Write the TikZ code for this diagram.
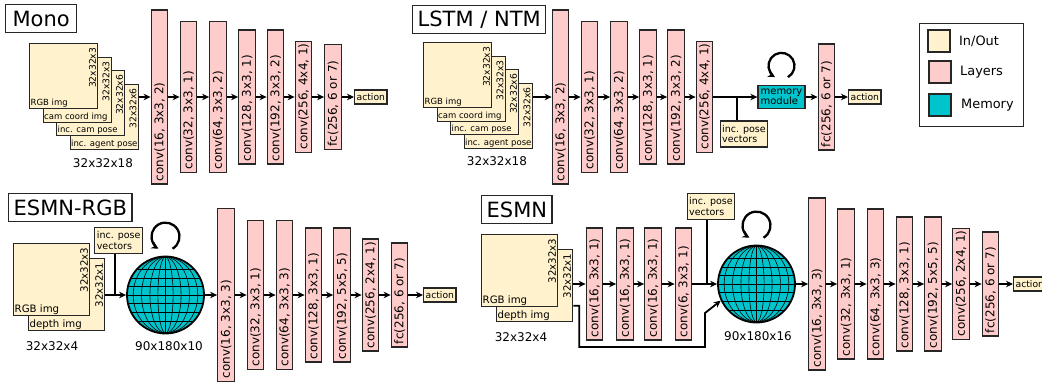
\documentclass[tikz,border=0pt]{standalone}
\usepackage{fontspec}
\setmainfont{DejaVu Sans}
\usepackage{tikz}
\usetikzlibrary{calc, arrows.meta, positioning}
\usepackage{xcolor}
\definecolor{inoutfill}{RGB}{255,242,204}
\definecolor{layerfill}{RGB}{255,204,204}
\definecolor{memfill}{RGB}{0,196,204}
\colorlet{edgegray}{black!85}
\tikzset{
  outline/.style={draw=edgegray, line width=1.3pt},
  titlebox/.style={outline, anchor=north west, inner xsep=5pt, minimum height=28pt, font=\fontsize{21}{25}\selectfont},
  inbox/.style={outline, fill=inoutfill, anchor=north west, inner sep=0pt},
  layerbox/.style={outline, fill=layerfill, rotate=90, inner sep=0pt, minimum height=16.5pt, font=\fontsize{12}{14}\selectfont},
  actbox/.style={outline, fill=inoutfill, anchor=west, inner sep=2pt, minimum height=14pt, font=\fontsize{9.2}{11}\selectfont},
  posebox/.style={outline, fill=inoutfill, align=left, inner sep=1.5pt, minimum width=46pt, minimum height=26pt, font=\fontsize{9.5}{10.5}\selectfont},
  membox/.style={outline, fill=memfill, align=left, inner sep=1pt, minimum width=47pt, minimum height=23pt, font=\fontsize{10}{10.5}\selectfont},
  globe/.style={circle, draw=black, line width=1.8pt, fill=memfill, minimum size=77pt, inner sep=0pt},
  gridline/.style={black, line width=0.6pt},
  arr/.style={line width=1.8pt, -{Stealth[length=7pt, width=6.5pt]}},
  feedline/.style={line width=1.8pt},
  selfloop/.style={line width=2.3pt, -{Stealth[length=7pt, width=7pt]}},
  dimtext/.style={font=\fontsize{12}{14}\selectfont},
  tagtext/.style={inner sep=1.5pt, font=\fontsize{8.5}{10}\selectfont},
  bigtag/.style={inner sep=1.5pt, font=\fontsize{10.2}{12}\selectfont},
  keytext/.style={font=\fontsize{12.9}{15}\selectfont},
}
% lat/long lines over a globe node
\newcommand{\globegrid}[1]{%
  \begin{scope}
    \clip (#1.center) circle[radius=38pt];
    \foreach \a in {0.2,0.41,0.63,0.85}
      \draw[gridline] (#1.center) ellipse[x radius=\a*38pt, y radius=38pt];
    \draw[gridline] ([yshift=38pt]#1.center) -- ([yshift=-38pt]#1.center);
    \foreach \b in {-0.68,-0.45,-0.23,0,0.23,0.45,0.68}
      \draw[gridline] ([xshift=-38pt, yshift=\b*38pt]#1.center) -- ([xshift=38pt, yshift=\b*38pt]#1.center);
  \end{scope}}

\begin{document}
\begin{tikzpicture}[x=1pt, y=-1pt]
  \fill[white] (0,0) rectangle (1042,383);
  \useasboundingbox (0,0) rectangle (1042,383);

  % Mono and LSTM / NTM inputs
  \node[titlebox, minimum width=71pt] (monotitle) at (5,4) {Mono};
  \node[titlebox] (lstmtitle) at (412,5) {LSTM / NTM};
  \foreach \net/\x/\y in {mono/29/43, lstm/423/42} {
    \foreach \i/\d/\txt/\dims in {3/40.5/inc. agent pose/32x32x6, 2/27/inc. cam pose/32x32x6, 1/13.5/cam coord img/32x32x3, 0/0/RGB img/32x32x3} {
      \node[inbox, minimum width=68pt, minimum height=65pt] (\net in\i) at (\x+\d,\y+\d) {};
      \node[tagtext, anchor=south west] (\net tag\i) at (\net in\i.south west) {\txt};
      \node[tagtext, font=\fontsize{9.2}{11}\selectfont, rotate=90, anchor=south east] (\net dim\i) at ([xshift=-0.5pt, yshift=-3pt]\net in\i.north east) {\dims};
    }
  }
  \node[dimtext] (monosize) at (103,163) {32x32x18};
  \node[dimtext] (lstmsize) at (497,161) {32x32x18};

  % Mono layers
  \foreach \n/\x/\h/\txt in {1/159.5/174/{conv(16, 3x3, 2)}, 2/188.5/151/{conv(32, 3x3, 1)}, 3/218/151/{conv(64, 3x3, 2)}, 4/247/134/{conv(128, 3x3, 1)}, 5/275.5/134/{conv(192, 3x3, 2)}, 6/303.5/111/{conv(256, 4x4, 1)}, 7/333/105/{fc(256, 6 or 7)}}
    \node[layerbox, minimum width=\h pt] (mono\n) at (\x,97) {\makebox[\dimexpr\h pt-6pt\relax][l]{\txt}};
  \node[actbox] (monoact) at (354,97) {action};
  \draw[arr] (monoin3.east |- mono1) -- (mono1);
  \foreach \i [count=\j from 2] in {1,...,6}
    \draw[arr] (mono\i) -- (mono\j);
  \draw[arr] (mono7) -- (monoact);

  % LSTM / NTM layers
  \foreach \n/\x/\h/\txt in {1/560.5/174/{conv(16, 3x3, 2)}, 2/589.5/151/{conv(32, 3x3, 1)}, 3/619/151/{conv(64, 3x3, 2)}, 4/648/134/{conv(128, 3x3, 1)}, 5/676/134/{conv(192, 3x3, 2)}, 6/704.5/111/{conv(256, 4x4, 1)}, 7/826.5/106/{fc(256, 6 or 7)}}
    \node[layerbox, minimum width=\h pt] (lstm\n) at (\x,97) {\makebox[\dimexpr\h pt-6pt\relax][l]{\txt}};
  \node[membox] (lstmmem) at (781.5,97) {memory\\module};
  \node[posebox] (lstmpose) at (744,134) {inc. pose\\vectors};
  \node[actbox] (lstmact) at (848,97) {action};
  \draw[arr] (lstmin3.east |- lstm1) -- (lstm1);
  \foreach \i [count=\j from 2] in {1,...,5}
    \draw[arr] (lstm\i) -- (lstm\j);
  \draw[arr] (lstm6) -- (lstmmem);
  \draw[feedline] ([xshift=-7pt]lstmpose.north) -- ([xshift=-7pt]lstmpose.north |- lstmmem);
  \draw[selfloop] ([yshift=19pt]lstmmem.north) ++(-60:13pt) arc[start angle=-60, end angle=240, radius=13pt];
  \draw[arr] (lstmmem) -- (lstm7);
  \draw[arr] (lstm7) -- (lstmact);

  % Legend
  \node[outline, minimum width=104pt, minimum height=103pt, anchor=north west] (legend) at (919,23) {};
  \node[outline, fill=inoutfill, minimum size=22pt, inner sep=0pt] (keyio) at (939,41) {};
  \node[outline, fill=layerfill, minimum size=22pt, inner sep=0pt] (keylayer) at (940,72) {};
  \node[outline, fill=memfill, minimum size=22pt, inner sep=0pt] (keymem) at (940,105) {};
  \node[keytext, right=5pt of keyio] (keyiotxt) {In/Out};
  \node[keytext, right=5pt of keylayer] (keylayertxt) {Layers};
  \node[keytext, right=6pt of keymem] (keymemtxt) {Memory};

  % ESMN-RGB
  \node[titlebox] (ergbtitle) at (8,193) {ESMN-RGB};
  \node[inbox, minimum width=76pt, minimum height=72pt] (ergbin1) at (28,258) {};
  \node[bigtag, anchor=south west] (ergbtag1) at (ergbin1.south west) {depth img};
  \node[bigtag, rotate=90, anchor=south east] (ergbdim1) at ([xshift=-0.5pt, yshift=-3pt]ergbin1.north east) {32x32x1};
  \node[inbox, minimum width=76pt, minimum height=72pt] (ergbin0) at (13,243) {};
  \node[bigtag, anchor=south west] (ergbtag0) at (ergbin0.south west) {RGB img};
  \node[bigtag, rotate=90, anchor=south east] (ergbdim0) at ([xshift=-0.5pt, yshift=-3pt]ergbin0.north east) {32x32x3};
  \node[dimtext] (ergbsize) at (52,346) {32x32x4};
  \node[posebox, minimum width=48pt, anchor=north west] (ergbpose) at (94,227) {inc. pose\\vectors};
  \node[globe] (ergbsph) at (165.5,295) {};
  \globegrid{ergbsph}
  \node[dimtext] (ergbmap) at (169,346) {90x180x10};
  \draw[arr] (ergbin1.east |- ergbsph) -- (ergbsph);
  \draw[feedline] ([xshift=-4pt]ergbpose.south) -- ([xshift=-4pt]ergbpose.south |- ergbsph);
  \draw[selfloop] ([yshift=19pt]ergbsph.north) ++(-60:14pt) arc[start angle=-60, end angle=240, radius=14pt];
  \foreach \n/\x/\h/\txt in {1/226/173/{conv(16, 3x3, 3)}, 2/255.5/149/{conv(32, 3x3, 1)}, 3/284.5/149/{conv(64, 3x3, 3)}, 4/313.5/134/{conv(128, 3x3, 1)}, 5/342/134/{conv(192, 5x5, 5)}, 6/370.5/112/{conv(256, 2x4, 1)}, 7/399.5/104/{fc(256, 6 or 7)}}
    \node[layerbox, minimum width=\h pt] (ergb\n) at (\x,295) {\makebox[\dimexpr\h pt-6pt\relax][l]{\txt}};
  \node[actbox] (ergbact) at (423,295) {action};
  \draw[arr] (ergbsph) -- (ergb1);
  \foreach \i [count=\j from 2] in {1,...,6}
    \draw[arr] (ergb\i) -- (ergb\j);
  \draw[arr] (ergb7) -- (ergbact);

  % ESMN
  \node[titlebox] (esmntitle) at (481,195) {ESMN};
  \node[inbox, minimum width=76pt, minimum height=72pt] (esmnin1) at (496,249) {};
  \node[bigtag, anchor=south west] (esmntag1) at (esmnin1.south west) {depth img};
  \node[bigtag, rotate=90, anchor=south east] (esmndim1) at ([xshift=-0.5pt, yshift=-3pt]esmnin1.north east) {32x32x1};
  \node[inbox, minimum width=76pt, minimum height=72pt] (esmnin0) at (481,234) {};
  \node[bigtag, anchor=south west] (esmntag0) at (esmnin0.south west) {RGB img};
  \node[bigtag, rotate=90, anchor=south east] (esmndim0) at ([xshift=-0.5pt, yshift=-3pt]esmnin0.north east) {32x32x3};
  \node[dimtext] (esmnsize) at (521,337) {32x32x4};
  \foreach \n/\x/\txt in {1/594.5/{conv(16, 3x3, 1)}, 2/625/{conv(16, 3x3, 1)}, 3/653/{conv(16, 3x3, 1)}, 4/683.5/{conv(6, 3x3, 1)}}
    \node[layerbox, minimum width=112pt] (esmna\n) at (\x,284) {\makebox[106pt][l]{\txt}};
  \node[posebox, anchor=north west] (esmnpose) at (687,193) {inc. pose\\vectors};
  \node[globe] (esmnsph) at (756.5,284) {};
  \globegrid{esmnsph}
  \node[dimtext] (esmnmap) at (758,336) {90x180x16};
  \draw[arr] (esmnin1.east |- esmna1) -- (esmna1);
  \foreach \i [count=\j from 2] in {1,...,3}
    \draw[arr] (esmna\i) -- (esmna\j);
  \draw[arr] (esmna4) -- (esmnsph);
  \draw[feedline] ([xshift=-4pt]esmnpose.south) -- ([xshift=-4pt]esmnpose.south |- esmnsph);
  \draw[selfloop] ([yshift=19pt]esmnsph.north) ++(-60:14pt) arc[start angle=-60, end angle=240, radius=14pt];
  % depth skip into the map
  \coordinate (esmnskip) at (705,347);
  \draw[arr] ([yshift=-20pt]esmnin1.east) -- ++(6pt,0) |- (esmnskip) -- ++(0,34pt) -- (esmnsph.205);
  \foreach \n/\x/\h/\txt in {1/817/172/{conv(16, 3x3, 3)}, 2/846/150/{conv(32, 3x3, 1)}, 3/875.5/150/{conv(64, 3x3, 3)}, 4/904.5/134/{conv(128, 3x3, 1)}, 5/933/134/{conv(192, 5x5, 5)}, 6/961/111/{conv(256, 2x4, 1)}, 7/990.5/104/{fc(256, 6 or 7)}}
    \node[layerbox, minimum width=\h pt] (esmnb\n) at (\x,284) {\makebox[\dimexpr\h pt-6pt\relax][l]{\txt}};
  \node[actbox] (esmnact) at (1013,284) {action};
  \draw[arr] (esmnsph) -- (esmnb1);
  \foreach \i [count=\j from 2] in {1,...,6}
    \draw[arr] (esmnb\i) -- (esmnb\j);
  \draw[arr] (esmnb7) -- (esmnact);
\end{tikzpicture}
\end{document}
